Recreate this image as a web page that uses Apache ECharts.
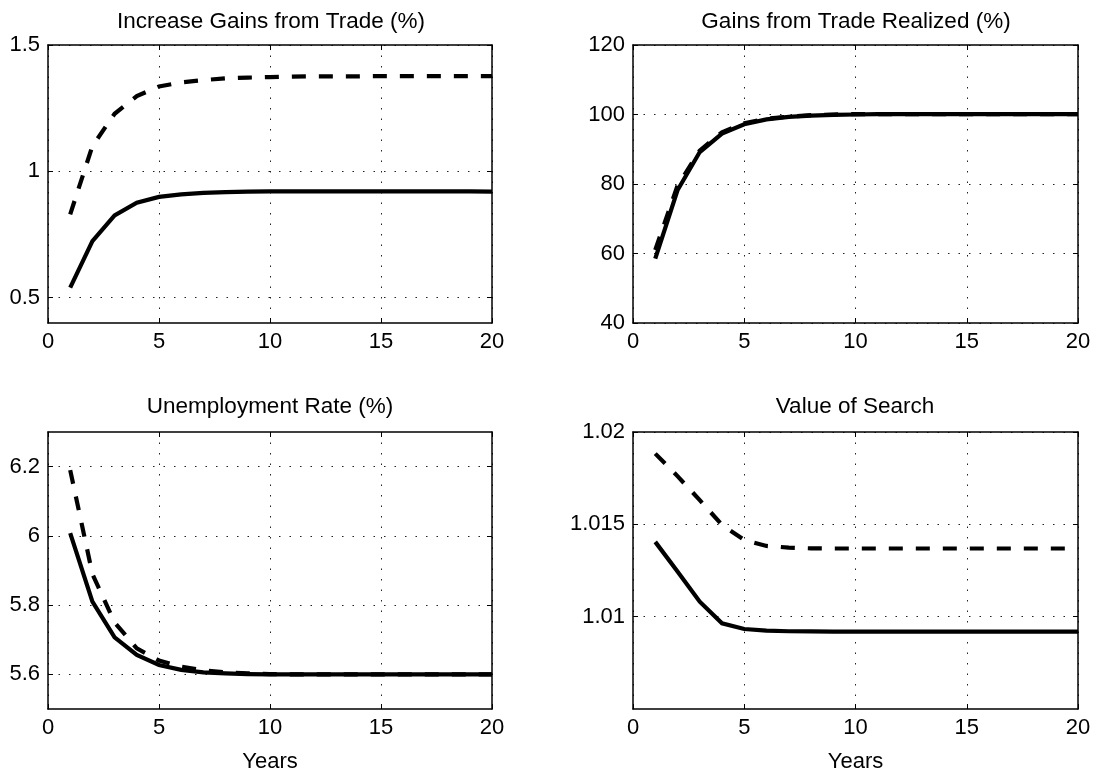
<!DOCTYPE html>
<html><head><meta charset="utf-8">
<script src="https://cdn.jsdelivr.net/npm/echarts@6/dist/echarts.min.js"></script>
<style>html,body{margin:0;padding:0;background:#fff}#c{width:1099px;height:774px}</style>
</head><body><div id="c"></div>
<script>
// ---- data ----
const years = [1,2,3,4,5,6,7,8,9,10,11,12,13,14,15,16,17,18,19,20];
const xTickValues = [0,5,10,15,20];
const panelTitles = ['Increase Gains from Trade (%)','Gains from Trade Realized (%)','Unemployment Rate (%)','Value of Search'];
const xAxisNames = ['', '', 'Years', 'Years'];

const gainsSolid   = [0.54,0.724,0.826,0.876,0.899,0.909,0.915,0.918,0.920,0.921,0.921,0.921,0.921,0.921,0.921,0.921,0.921,0.921,0.921,0.920];
const gainsDashed  = [0.83,1.10,1.228,1.298,1.336,1.352,1.361,1.368,1.371,1.373,1.375,1.376,1.376,1.376,1.377,1.377,1.377,1.377,1.377,1.377];

const realizedSolid  = [58.5,78.2,89.2,94.5,97.2,98.6,99.3,99.7,99.9,100.0,100.1,100.1,100.1,100.1,100.1,100.1,100.1,100.1,100.1,100.1];
const realizedDashed = [61.0,79.5,89.6,94.9,97.5,98.8,99.4,99.8,100.0,100.1,100.1,100.1,100.1,100.1,100.1,100.1,100.1,100.1,100.1,100.1];

const unempSolid  = [6.008,5.81,5.707,5.656,5.627,5.613,5.606,5.603,5.601,5.600,5.600,5.600,5.600,5.600,5.600,5.600,5.600,5.600,5.600,5.600];
const unempDashed = [6.19,5.89,5.75,5.675,5.640,5.622,5.612,5.606,5.603,5.601,5.600,5.600,5.600,5.600,5.600,5.600,5.600,5.600,5.600,5.600];

const searchSolid  = [1.01405,1.01245,1.01081,1.00964,1.00933,1.00924,1.00921,1.00920,1.00919,1.00919,1.00919,1.00919,1.00919,1.00919,1.00919,1.00919,1.00919,1.00919,1.00919,1.00919];
const searchDashed = [1.01883,1.01761,1.01631,1.01497,1.01415,1.01383,1.01374,1.01370,1.01369,1.01369,1.01369,1.01369,1.01369,1.01369,1.01369,1.01369,1.01369,1.01369,1.01369,1.01369];

const yTicksGains    = [0.5,1,1.5];
const yTicksRealized = [40,60,80,100,120];
const yTicksUnemp    = [5.6,5.8,6,6.2];
const yTicksSearch   = [1.01,1.015,1.02];

// ---- layout / style ----
const FONT = '"Liberation Sans", Arial, Helvetica, sans-serif';
const panels = [
  {solid: gainsSolid, dashed: gainsDashed, ticks: yTicksGains, min: 0.4, max: 1.5},
  {solid: realizedSolid, dashed: realizedDashed, ticks: yTicksRealized, min: 40, max: 120},
  {solid: unempSolid, dashed: unempDashed, ticks: yTicksUnemp, min: 5.5, max: 6.3},
  {solid: searchSolid, dashed: searchDashed, ticks: yTicksSearch, min: 1.005, max: 1.02}
];
const grids = [
  {left: 48, top: 45, width: 444, height: 278},
  {left: 633, top: 45, width: 445, height: 278},
  {left: 48, top: 432, width: 444, height: 279},
  {left: 633, top: 432, width: 445, height: 279}
];
const titlePos = [[271, 22], [856, 22], [270, 407], [855, 407]];

const axisLineStyle = {color: '#000', width: 1.5};
const gridLineStyle = {color: '#222', width: 1, type: [1.5, 9]};
const labelStyle = {color: '#000', fontSize: 22, fontFamily: FONT};

const xAxes = [], yAxes = [], series = [];
panels.forEach((p, i) => {
  xAxes.push({
    gridIndex: i, type: 'value', min: 0, max: 20, interval: 5, position: 'bottom',
    axisLine: {show: true, onZero: false, lineStyle: axisLineStyle},
    axisTick: {show: true, inside: true, length: 5, customValues: xTickValues, lineStyle: {color: '#000', width: 1}},
    axisLabel: Object.assign({margin: 8, customValues: xTickValues, formatter: v => String(v)}, labelStyle),
    splitLine: {show: true, lineStyle: gridLineStyle},
    name: xAxisNames[i], nameLocation: 'middle', nameGap: 42,
    nameTextStyle: {color: '#000', fontSize: 22, fontFamily: FONT}
  });
  xAxes.push({
    gridIndex: i, type: 'value', min: 0, max: 20, interval: 5, position: 'top',
    axisLine: {show: true, onZero: false, lineStyle: axisLineStyle},
    axisTick: {show: true, inside: true, length: 5, customValues: xTickValues, lineStyle: {color: '#000', width: 1}},
    axisLabel: {show: false}, splitLine: {show: false}
  });
  yAxes.push({
    gridIndex: i, type: 'value', min: p.min, max: p.max, position: 'left',
    axisLine: {show: true, onZero: false, lineStyle: axisLineStyle},
    axisTick: {show: true, inside: true, length: 5, customValues: p.ticks, lineStyle: {color: '#000', width: 1}},
    axisLabel: Object.assign({margin: 8, customValues: p.ticks, formatter: v => String(+v.toFixed(4))}, labelStyle),
    splitLine: {show: true, lineStyle: gridLineStyle}
  });
  yAxes.push({
    gridIndex: i, type: 'value', min: p.min, max: p.max, position: 'right',
    axisLine: {show: true, onZero: false, lineStyle: axisLineStyle},
    axisTick: {show: true, inside: true, length: 5, customValues: p.ticks, lineStyle: {color: '#000', width: 1}},
    axisLabel: {show: false}, splitLine: {show: false}
  });
  series.push({
    type: 'line', xAxisIndex: 2 * i, yAxisIndex: 2 * i, symbol: 'none', silent: true,
    data: years.map((x, k) => [x, p.solid[k]]),
    lineStyle: {color: '#000', width: 4.2, type: 'solid', cap: 'butt', join: 'miter'}
  });
  series.push({
    type: 'line', xAxisIndex: 2 * i, yAxisIndex: 2 * i, symbol: 'none', silent: true,
    data: years.map((x, k) => [x, p.dashed[k]]),
    lineStyle: {color: '#000', width: 4.2, type: [14, 13], cap: 'butt', join: 'miter'}
  });
});

const chart = echarts.init(document.getElementById('c'), null, {renderer: 'canvas'});
chart.setOption({
  animation: false,
  backgroundColor: '#fff',
  grid: grids,
  xAxis: xAxes,
  yAxis: yAxes,
  series: series,
  graphic: panelTitles.map((t, i) => ({
    type: 'text', x: titlePos[i][0], y: titlePos[i][1], silent: true,
    style: {text: t, fill: '#000', font: '22.5px ' + FONT, align: 'center', verticalAlign: 'middle'}
  }))
});
</script>
</body></html>
